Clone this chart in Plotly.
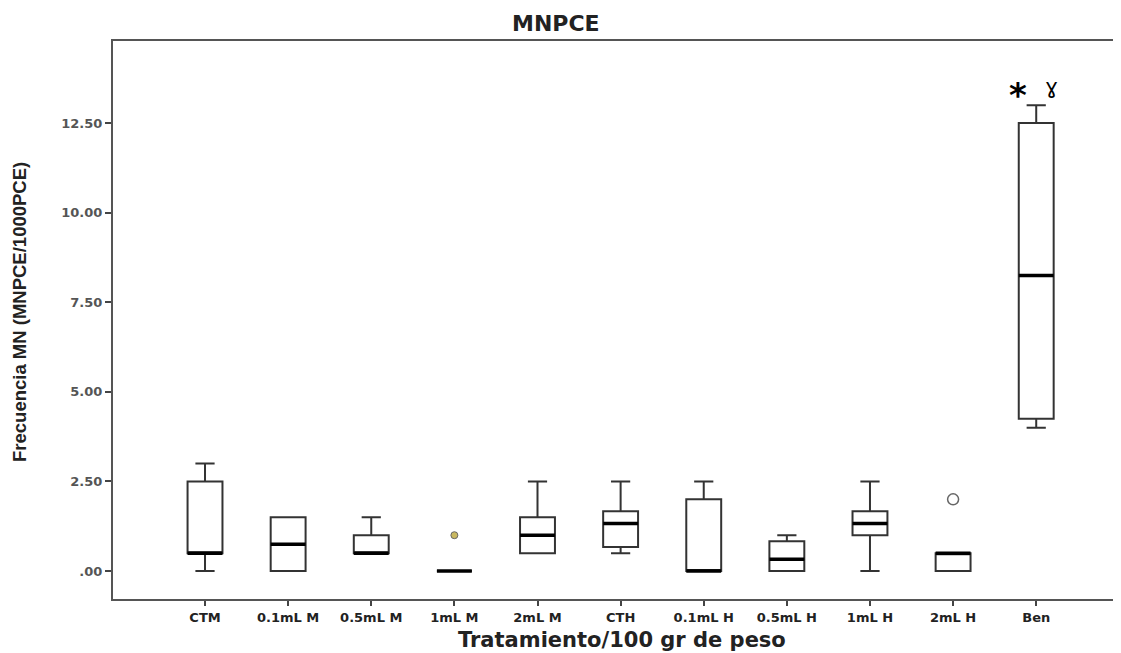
import plotly.graph_objects as go

categories = ["CTM", "0.1mL M", "0.5mL M", "1mL M", "2mL M", "CTH",
              "0.1mL H", "0.5mL H", "1mL H", "2mL H", "Ben"]
lower = [0.0, 0.0, 0.5, 0.0, 0.5, 0.5, 0.0, 0.0, 0.0, 0.0, 4.0]
q1 = [0.5, 0.0, 0.5, 0.0, 0.5, 0.67, 0.0, 0.0, 1.0, 0.0, 4.25]
median = [0.5, 0.75, 0.5, 0.0, 1.0, 1.33, 0.0, 0.33, 1.33, 0.5, 8.25]
q3 = [2.5, 1.5, 1.0, 0.0, 1.5, 1.67, 2.0, 0.83, 1.67, 0.5, 12.5]
upper = [3.0, 1.5, 1.5, 0.0, 2.5, 2.5, 2.5, 1.0, 2.5, 0.5, 13.0]
outlier_cat = ["1mL M", "2mL H"]
outlier_val = [1.0, 2.0]
yticks = [0, 2.5, 5.0, 7.5, 10.0, 12.5]
ytick_text = [".00", "2.50", "5.00", "7.50", "10.00", "12.50"]

idx = list(range(len(categories)))
box_w = 0.42

fig = go.Figure()
fig.add_trace(go.Box(
    x=idx, q1=q1, median=median, q3=q3, lowerfence=lower, upperfence=upper,
    width=box_w, whiskerwidth=0.55, fillcolor="white",
    line=dict(color="#333333", width=2), boxpoints=False, showlegend=False,
    hoverinfo="skip"))

# thick medians
mx, my = [], []
for i, m in zip(idx, median):
    mx += [i - box_w / 2, i + box_w / 2, None]
    my += [m, m, None]
fig.add_trace(go.Scatter(x=mx, y=my, mode="lines",
                         line=dict(color="black", width=3.5),
                         showlegend=False, hoverinfo="skip"))

# outliers
ox = [categories.index(c) for c in outlier_cat]
fig.add_trace(go.Scatter(x=[ox[0]], y=[outlier_val[0]], mode="markers",
                         marker=dict(size=7, color="#c9b860",
                                     line=dict(color="#666666", width=1)),
                         showlegend=False, hoverinfo="skip"))
fig.add_trace(go.Scatter(x=[ox[1]], y=[outlier_val[1]], mode="markers",
                         marker=dict(size=11, color="white",
                                     line=dict(color="#666666", width=1.5)),
                         showlegend=False, hoverinfo="skip"))

ben = categories.index("Ben")
fig.add_annotation(x=ben - 0.22, y=upper[ben], text="<b>*</b>",
                   showarrow=False, font=dict(size=34, color="black",
                                              family="DejaVu Sans"),
                   yanchor="bottom", yshift=-12)
fig.add_annotation(x=ben + 0.18, y=upper[ben], text="ɣ",
                   showarrow=False, font=dict(size=22, color="black",
                                              family="DejaVu Sans"),
                   yanchor="bottom", yshift=4)

# titles as paper annotations
fig.add_annotation(xref="paper", yref="paper", x=(556 - 113) / 1008,
                   y=1, yshift=18, text="<b>MNPCE</b>", showarrow=False,
                   xanchor="center", yanchor="middle",
                   font=dict(family="DejaVu Sans", size=22, color="#222222"))
fig.add_annotation(xref="paper", yref="paper", x=(622 - 113) / 1008,
                   y=0, yshift=-41, text="<b>Tratamiento/100 gr de peso</b>",
                   showarrow=False, xanchor="center", yanchor="middle",
                   font=dict(family="DejaVu Sans", size=21, color="#222222"))
fig.add_annotation(xref="paper", yref="paper", x=0, xshift=-(113 - 19),
                   y=(599 - 312) / 558, text="<b>Frecuencia MN (MNPCE/1000PCE)</b>",
                   textangle=-90, showarrow=False, xanchor="center",
                   yanchor="middle",
                   font=dict(family="Liberation Sans", size=18.5,
                             color="#222222"))

# page body has an 8px margin, so the figure is drawn 8px in and 8px down
fig.update_layout(
    width=1113, height=645,
    margin=dict(l=105, r=0, t=33, b=54, autoexpand=False),
    paper_bgcolor="white", plot_bgcolor="white",
    xaxis=dict(range=[-1.107, 11.02], tickmode="array", tickvals=idx,
               ticktext=categories, tickangle=0, showgrid=False,
               zeroline=False, showline=True, linecolor="#555555",
               linewidth=2, mirror=True, ticks="outside", ticklen=5,
               tickwidth=2, tickcolor="#444444", automargin=False,
               tickfont=dict(family="DejaVu Sans", size=13, color="#222222",
                             weight="bold")),
    yaxis=dict(range=[-0.78, 14.79], tickmode="array", tickvals=yticks,
               ticktext=ytick_text, showgrid=False, zeroline=False,
               showline=True, linecolor="#555555", linewidth=2,
               ticks="outside", ticklen=6, tickwidth=1.5,
               tickcolor="#444444", automargin=False,
               tickfont=dict(family="DejaVu Sans", size=13, color="#555555",
                             weight="bold")),
)

fig.write_html("out.html")
